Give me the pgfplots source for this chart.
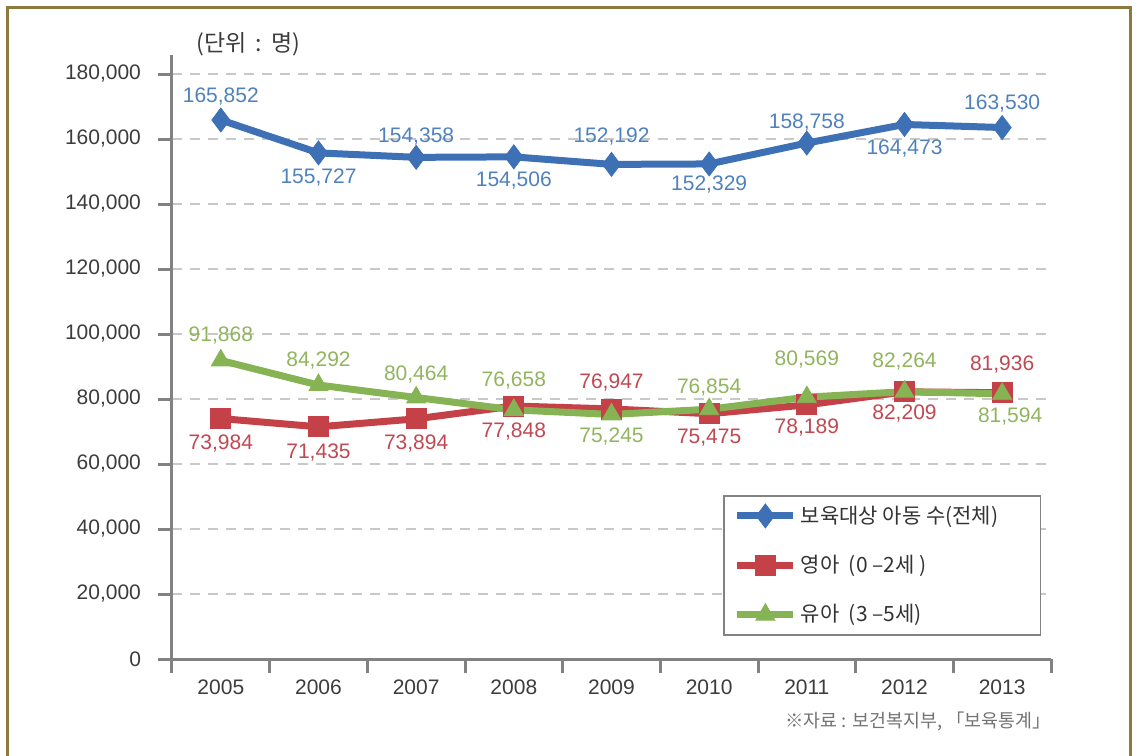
\documentclass[border=0pt]{standalone}
\usepackage{fontspec}
\setmainfont{Liberation Sans}
\newfontfamily\kr{Noto Sans CJK KR}
\usepackage{pgfplots}
\usepackage{pgfplotstable}
\pgfplotsset{compat=1.18}
\definecolor{frameGold}{RGB}{140,122,62}
\definecolor{axGray}{RGB}{130,130,130}
\definecolor{gridGray}{RGB}{200,200,200}
\definecolor{tickText}{RGB}{60,60,60}
\definecolor{totBlue}{RGB}{62,112,182}
\definecolor{totBlueTxt}{RGB}{79,129,189}
\definecolor{infRed}{RGB}{196,65,72}
\definecolor{infRedTxt}{RGB}{192,72,82}
\definecolor{todGreen}{RGB}{134,180,84}
\definecolor{todGreenTxt}{RGB}{145,180,95}

% x = year index (0 = 2005), dy/dx = label offset in pt
\pgfplotstableread{
x y lab dy dx
0 165852 165,852 11.5 0
1 155727 155,727 -12.5 0
2 154358 154,358 10.5 0
3 154506 154,506 -12 0
4 152192 152,192 14 0
5 152329 152,329 -10.5 0
6 158758 158,758 10.5 0
7 164473 164,473 -12 0
8 163530 163,530 12 0
}\totaltab
\pgfplotstableread{
x y lab dy dx
0 73984 73,984 -12.5 0
1 71435 71,435 -13 0
2 73894 73,894 -12.5 0
3 77848 77,848 -13 0
4 76947 76,947 13 0
5 75475 75,475 -12 0
6 78189 78,189 -11.5 0
7 82209 82,209 -11 0
8 81936 81,936 14 0
}\infanttab
\pgfplotstableread{
x y lab dy dx
0 91868 91,868 12.5 0
1 84292 84,292 12.5 0
2 80464 80,464 11.5 0
3 76658 76,658 14.5 0
4 75245 75,245 -11 0
5 76854 76,854 11 0
6 80569 80,569 19 0
7 82264 82,264 15 0
8 81594 81,594 -11.5 4
}\toddlertab

\begin{document}
\begin{tikzpicture}
\begin{axis}[
  name=ax,
  at={(0,0)}, anchor=south west,
  scale only axis,
  width=439.5pt, height=302pt,
  xmin=-0.5, xmax=8.5,
  ymin=0, ymax=185850,
  axis x line*=bottom, axis y line*=left,
  axis line style={axGray, line width=1.5pt},
  tick align=outside,
  tick style={axGray, line width=1.5pt},
  xtick={-0.5,0.5,...,8.5},
  xticklabels={},
  major tick length=7pt,
  extra x ticks={0,1,2,3,4,5,6,7,8},
  extra x tick labels={2005,2006,2007,2008,2009,2010,2011,2012,2013},
  extra x tick style={major tick length=0pt, tick style={draw=none}},
  xticklabel style={font=\fontsize{10.5}{12}\selectfont, text=tickText, yshift=-7pt},
  ytick={0,20000,40000,60000,80000,100000,120000,140000,160000,180000},
  yticklabels={0,{20,000},{40,000},{60,000},{80,000},{100,000},{120,000},{140,000},{160,000},{180,000}},
  scaled y ticks=false,
  yticklabel style={font=\fontsize{10.5}{12}\selectfont, text=tickText, xshift=-5pt},
  ymajorgrids,
  grid style={gridGray, dashed, line width=0.75pt, dash pattern=on 5pt off 4pt},
  clip=false,
  point meta=explicit symbolic,
  nodes near coords,
  visualization depends on={\thisrow{dy} \as \dy},
  visualization depends on={\thisrow{dx} \as \dx},
  nodes near coords style={anchor=center, yshift=\dy*1pt, xshift=\dx*1pt,
    font=\fontsize{10.5}{12}\selectfont, inner sep=0pt},
  legend style={at={(rel axis cs:0.627,0.2715)}, anchor=north west,
    draw=axGray, line width=0.75pt, fill=white,
    font=\kr\fontsize{10.5}{12}\selectfont, text=black!80,
    row sep=10.5pt, inner xsep=5pt, inner ysep=3pt,
    cells={anchor=west}},
  legend image code/.code={
    \draw[mark repeat=2, mark phase=2, #1]
      plot coordinates {(0pt,0pt) (14pt,0pt) (28pt,0pt)};},
]
\addplot[totBlue, line width=3.5pt, mark=diamond*, mark size=6pt,
  mark options={solid, line width=0.4pt},
  every node near coord/.append style={text=totBlueTxt}]
  table[x=x, y=y, meta=lab] {\totaltab};
\addlegendentry{보육대상 아동 수(전체)\rule{14pt}{0pt}}
\addplot[infRed, line width=3.5pt, mark=square*, mark size=5pt,
  mark options={solid, line width=0.4pt},
  every node near coord/.append style={text=infRedTxt}]
  table[x=x, y=y, meta=lab] {\infanttab};
\addlegendentry{영아\ \ (0 –2세 )}
\addplot[todGreen, line width=3.5pt, mark=triangle*, mark size=5.5pt,
  mark options={solid, line width=0.4pt},
  every node near coord/.append style={text=todGreenTxt}]
  table[x=x, y=y, meta=lab] {\toddlertab};
\addlegendentry{유아\ \ (3 –5세)}

\node[anchor=west, font=\kr\fontsize{11.5}{13}\selectfont, text=tickText]
  at (rel axis cs:0.02,1.017) {(단위\ \,:\ \,명)};
\node[anchor=east, font=\kr\fontsize{9.2}{11}\selectfont, text=black!55]
  at (rel axis cs:1.008,-0.104) {※자료 : 보건복지부, 「보육통계」};
\end{axis}
\draw[frameGold, line width=1.5pt] (-82pt,-60pt) -- (-82pt,325.5pt)
  -- (479pt,325.5pt) -- (479pt,-60pt);
\pgfresetboundingbox
\path[use as bounding box] (-86pt,-48pt) rectangle (483pt,329.5pt);
\end{tikzpicture}
\end{document}
